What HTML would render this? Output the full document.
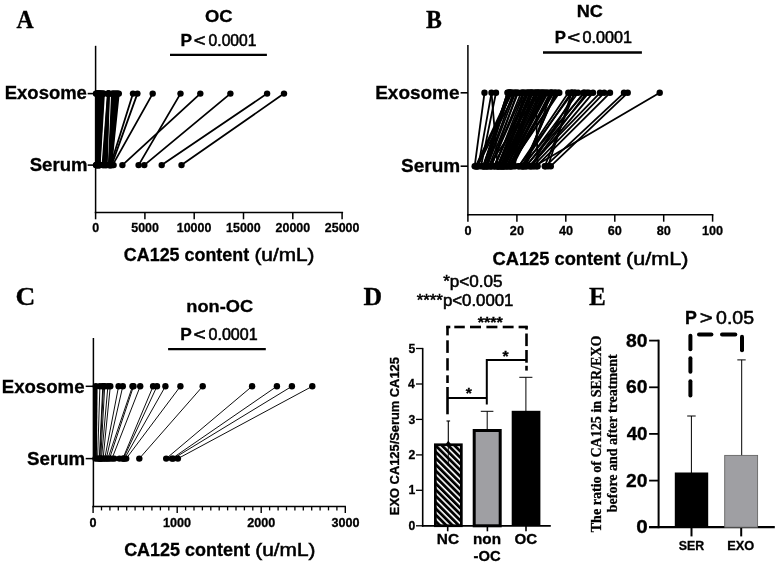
<!DOCTYPE html>
<html lang="en">
<head>
<meta charset="utf-8">
<title>CA125 in exosome and serum</title>
<style>
html,body{margin:0;padding:0;background:#fff;}
body{width:778px;height:565px;overflow:hidden;}
svg{display:block;}
</style>
</head>
<body>
<svg width="778" height="565" viewBox="0 0 778 565">
<rect width="778" height="565" fill="#fff"/>
<g id="panelA">
<text transform="translate(16.60,27.80) scale(0.9517,1)" font-family='"Liberation Serif", "Times New Roman", Times, serif' font-size="25" font-weight="bold" stroke="#000" stroke-width="0.3">A</text>
<text transform="translate(204.92,21.60) scale(1.0646,1)" font-family='"Liberation Sans", Arial, Helvetica, sans-serif' font-size="17.3" font-weight="bold" stroke="#000" stroke-width="0.3">OC</text>
<text transform="translate(180.52,46.00) scale(1.0677,1)" font-family='"Liberation Sans", Arial, Helvetica, sans-serif' font-size="16.2" font-weight="bold" stroke="#000" stroke-width="0.3">P</text>
<text transform="translate(193.76,46.00) scale(1.2121,1)" font-family='"Liberation Sans", Arial, Helvetica, sans-serif' font-size="16.5" font-weight="normal" stroke="#000" stroke-width="0.55">&lt;</text>
<text transform="translate(208.61,46.00) scale(0.9917,1)" font-family='"Liberation Sans", Arial, Helvetica, sans-serif' font-size="15.8" font-weight="normal" stroke="#000" stroke-width="0.55">0.0001</text>
<line x1="170.0" y1="54.8" x2="266.9" y2="54.8" stroke="#000" stroke-width="2.2"/>
<line x1="95.6" y1="45.8" x2="95.6" y2="213.2" stroke="#000" stroke-width="1.5"/>
<line x1="94.8" y1="212.5" x2="343.1" y2="212.5" stroke="#000" stroke-width="1.5"/>
<line x1="95.6" y1="212.5" x2="95.6" y2="219.3" stroke="#000" stroke-width="1.5"/>
<text transform="translate(92.20,232.10) scale(0.9570,1)" font-family='"Liberation Sans", Arial, Helvetica, sans-serif' font-size="13" font-weight="bold" stroke="#000" stroke-width="0.3">0</text>
<line x1="144.9" y1="212.5" x2="144.9" y2="219.3" stroke="#000" stroke-width="1.5"/>
<text transform="translate(131.22,232.10) scale(0.9570,1)" font-family='"Liberation Sans", Arial, Helvetica, sans-serif' font-size="13" font-weight="bold" stroke="#000" stroke-width="0.3">5000</text>
<line x1="194.2" y1="212.5" x2="194.2" y2="219.3" stroke="#000" stroke-width="1.5"/>
<text transform="translate(176.77,232.10) scale(0.9570,1)" font-family='"Liberation Sans", Arial, Helvetica, sans-serif' font-size="13" font-weight="bold" stroke="#000" stroke-width="0.3">10000</text>
<line x1="243.5" y1="212.5" x2="243.5" y2="219.3" stroke="#000" stroke-width="1.5"/>
<text transform="translate(226.07,232.10) scale(0.9570,1)" font-family='"Liberation Sans", Arial, Helvetica, sans-serif' font-size="13" font-weight="bold" stroke="#000" stroke-width="0.3">15000</text>
<line x1="292.8" y1="212.5" x2="292.8" y2="219.3" stroke="#000" stroke-width="1.5"/>
<text transform="translate(275.56,232.10) scale(0.9570,1)" font-family='"Liberation Sans", Arial, Helvetica, sans-serif' font-size="13" font-weight="bold" stroke="#000" stroke-width="0.3">20000</text>
<line x1="342.1" y1="212.5" x2="342.1" y2="219.3" stroke="#000" stroke-width="1.5"/>
<text transform="translate(324.86,232.10) scale(0.9570,1)" font-family='"Liberation Sans", Arial, Helvetica, sans-serif' font-size="13" font-weight="bold" stroke="#000" stroke-width="0.3">25000</text>
<line x1="87.7" y1="93.6" x2="95.6" y2="93.6" stroke="#000" stroke-width="1.6"/>
<line x1="87.7" y1="165.1" x2="95.6" y2="165.1" stroke="#000" stroke-width="1.6"/>
<text transform="translate(4.74,99.30) scale(1.0273,1)" font-family='"Liberation Sans", Arial, Helvetica, sans-serif' font-size="18" font-weight="bold" stroke="#000" stroke-width="0.3">Exosome</text>
<text transform="translate(29.71,171.00) scale(1.0340,1)" font-family='"Liberation Sans", Arial, Helvetica, sans-serif' font-size="18" font-weight="bold" stroke="#000" stroke-width="0.3">Serum</text>
<text transform="translate(123.84,260.90) scale(1.0058,1)" font-family='"Liberation Sans", Arial, Helvetica, sans-serif' font-size="17.8" font-weight="bold" stroke="#000" stroke-width="0.3">CA125 content</text>
<text transform="translate(254.43,260.90) scale(1.1358,1)" font-family='"Liberation Sans", Arial, Helvetica, sans-serif' font-size="18.3" font-weight="normal" stroke="#000" stroke-width="0.55">(u/mL)</text>
<g stroke="#000" stroke-width="1.8" stroke-linecap="round">
<line x1="122.4" y1="165.1" x2="200.3" y2="93.6"/>
<line x1="138.6" y1="165.1" x2="180.5" y2="93.6"/>
<line x1="144.3" y1="165.1" x2="230.4" y2="93.6"/>
<line x1="161.7" y1="165.1" x2="267.1" y2="93.6"/>
<line x1="181.5" y1="165.1" x2="284.0" y2="93.6"/>
<line x1="112.6" y1="165.1" x2="152.7" y2="93.6"/>
<line x1="111.6" y1="165.1" x2="137.4" y2="93.6"/>
<line x1="110.6" y1="165.1" x2="133.0" y2="93.6"/>
<line x1="96.0" y1="165.1" x2="96.0" y2="93.6"/>
<line x1="96.3" y1="165.1" x2="96.7" y2="93.6"/>
<line x1="96.7" y1="165.1" x2="97.5" y2="93.6"/>
<line x1="97.0" y1="165.1" x2="98.2" y2="93.6"/>
<line x1="97.3" y1="165.1" x2="98.9" y2="93.6"/>
<line x1="97.7" y1="165.1" x2="99.6" y2="93.6"/>
<line x1="98.0" y1="165.1" x2="100.4" y2="93.6"/>
<line x1="98.4" y1="165.1" x2="101.1" y2="93.6"/>
<line x1="98.7" y1="165.1" x2="101.8" y2="93.6"/>
<line x1="99.0" y1="165.1" x2="102.5" y2="93.6"/>
<line x1="99.4" y1="165.1" x2="103.3" y2="93.6"/>
<line x1="99.7" y1="165.1" x2="104.0" y2="93.6"/>
<line x1="96.0" y1="165.1" x2="100.0" y2="93.6"/>
<line x1="96.8" y1="165.1" x2="99.3" y2="93.6"/>
<line x1="97.6" y1="165.1" x2="98.6" y2="93.6"/>
<line x1="98.4" y1="165.1" x2="97.9" y2="93.6"/>
<line x1="99.2" y1="165.1" x2="97.2" y2="93.6"/>
<line x1="100.0" y1="165.1" x2="96.5" y2="93.6"/>
<line x1="102.5" y1="165.1" x2="107.9" y2="93.6"/>
<line x1="103.2" y1="165.1" x2="108.1" y2="93.6"/>
<line x1="103.9" y1="165.1" x2="108.3" y2="93.6"/>
<line x1="104.7" y1="165.1" x2="108.5" y2="93.6"/>
<line x1="105.4" y1="165.1" x2="108.6" y2="93.6"/>
<line x1="106.1" y1="165.1" x2="108.8" y2="93.6"/>
<line x1="106.8" y1="165.1" x2="109.0" y2="93.6"/>
<line x1="108.8" y1="165.1" x2="112.0" y2="93.6"/>
<line x1="109.2" y1="165.1" x2="113.0" y2="93.6"/>
<line x1="109.5" y1="165.1" x2="113.9" y2="93.6"/>
<line x1="109.9" y1="165.1" x2="114.9" y2="93.6"/>
<line x1="110.2" y1="165.1" x2="115.9" y2="93.6"/>
<line x1="110.6" y1="165.1" x2="116.9" y2="93.6"/>
<line x1="110.9" y1="165.1" x2="117.8" y2="93.6"/>
<line x1="111.3" y1="165.1" x2="118.8" y2="93.6"/>
</g><g fill="#000">
<circle cx="122.4" cy="165.1" r="3.2"/>
<circle cx="200.3" cy="93.6" r="3.2"/>
<circle cx="138.6" cy="165.1" r="3.2"/>
<circle cx="180.5" cy="93.6" r="3.2"/>
<circle cx="144.3" cy="165.1" r="3.2"/>
<circle cx="230.4" cy="93.6" r="3.2"/>
<circle cx="161.7" cy="165.1" r="3.2"/>
<circle cx="267.1" cy="93.6" r="3.2"/>
<circle cx="181.5" cy="165.1" r="3.2"/>
<circle cx="284.0" cy="93.6" r="3.2"/>
<circle cx="112.6" cy="165.1" r="3.2"/>
<circle cx="152.7" cy="93.6" r="3.2"/>
<circle cx="111.6" cy="165.1" r="3.2"/>
<circle cx="137.4" cy="93.6" r="3.2"/>
<circle cx="110.6" cy="165.1" r="3.2"/>
<circle cx="133.0" cy="93.6" r="3.2"/>
<circle cx="96.0" cy="165.1" r="3.2"/>
<circle cx="96.0" cy="93.6" r="3.2"/>
<circle cx="96.3" cy="165.1" r="3.2"/>
<circle cx="96.7" cy="93.6" r="3.2"/>
<circle cx="96.7" cy="165.1" r="3.2"/>
<circle cx="97.5" cy="93.6" r="3.2"/>
<circle cx="97.0" cy="165.1" r="3.2"/>
<circle cx="98.2" cy="93.6" r="3.2"/>
<circle cx="97.3" cy="165.1" r="3.2"/>
<circle cx="98.9" cy="93.6" r="3.2"/>
<circle cx="97.7" cy="165.1" r="3.2"/>
<circle cx="99.6" cy="93.6" r="3.2"/>
<circle cx="98.0" cy="165.1" r="3.2"/>
<circle cx="100.4" cy="93.6" r="3.2"/>
<circle cx="98.4" cy="165.1" r="3.2"/>
<circle cx="101.1" cy="93.6" r="3.2"/>
<circle cx="98.7" cy="165.1" r="3.2"/>
<circle cx="101.8" cy="93.6" r="3.2"/>
<circle cx="99.0" cy="165.1" r="3.2"/>
<circle cx="102.5" cy="93.6" r="3.2"/>
<circle cx="99.4" cy="165.1" r="3.2"/>
<circle cx="103.3" cy="93.6" r="3.2"/>
<circle cx="99.7" cy="165.1" r="3.2"/>
<circle cx="104.0" cy="93.6" r="3.2"/>
<circle cx="100.0" cy="93.6" r="3.2"/>
<circle cx="96.8" cy="165.1" r="3.2"/>
<circle cx="99.3" cy="93.6" r="3.2"/>
<circle cx="97.6" cy="165.1" r="3.2"/>
<circle cx="98.6" cy="93.6" r="3.2"/>
<circle cx="97.9" cy="93.6" r="3.2"/>
<circle cx="99.2" cy="165.1" r="3.2"/>
<circle cx="97.2" cy="93.6" r="3.2"/>
<circle cx="100.0" cy="165.1" r="3.2"/>
<circle cx="96.5" cy="93.6" r="3.2"/>
<circle cx="102.5" cy="165.1" r="3.2"/>
<circle cx="107.9" cy="93.6" r="3.2"/>
<circle cx="103.2" cy="165.1" r="3.2"/>
<circle cx="108.1" cy="93.6" r="3.2"/>
<circle cx="103.9" cy="165.1" r="3.2"/>
<circle cx="108.3" cy="93.6" r="3.2"/>
<circle cx="104.7" cy="165.1" r="3.2"/>
<circle cx="108.5" cy="93.6" r="3.2"/>
<circle cx="105.4" cy="165.1" r="3.2"/>
<circle cx="108.6" cy="93.6" r="3.2"/>
<circle cx="106.1" cy="165.1" r="3.2"/>
<circle cx="108.8" cy="93.6" r="3.2"/>
<circle cx="106.8" cy="165.1" r="3.2"/>
<circle cx="109.0" cy="93.6" r="3.2"/>
<circle cx="108.8" cy="165.1" r="3.2"/>
<circle cx="112.0" cy="93.6" r="3.2"/>
<circle cx="109.2" cy="165.1" r="3.2"/>
<circle cx="113.0" cy="93.6" r="3.2"/>
<circle cx="109.5" cy="165.1" r="3.2"/>
<circle cx="113.9" cy="93.6" r="3.2"/>
<circle cx="109.9" cy="165.1" r="3.2"/>
<circle cx="114.9" cy="93.6" r="3.2"/>
<circle cx="110.2" cy="165.1" r="3.2"/>
<circle cx="115.9" cy="93.6" r="3.2"/>
<circle cx="116.9" cy="93.6" r="3.2"/>
<circle cx="110.9" cy="165.1" r="3.2"/>
<circle cx="117.8" cy="93.6" r="3.2"/>
<circle cx="111.3" cy="165.1" r="3.2"/>
<circle cx="118.8" cy="93.6" r="3.2"/>
</g>
<circle cx="113.6" cy="165.1" r="3.2"/>
</g>
<g id="panelB">
<text transform="translate(425.93,27.80) scale(0.9536,1)" font-family='"Liberation Serif", "Times New Roman", Times, serif' font-size="25" font-weight="bold" stroke="#000" stroke-width="0.3">B</text>
<text transform="translate(576.77,17.10) scale(1.0477,1)" font-family='"Liberation Sans", Arial, Helvetica, sans-serif' font-size="17.3" font-weight="bold" stroke="#000" stroke-width="0.3">NC</text>
<text transform="translate(554.75,42.50) scale(1.0357,1)" font-family='"Liberation Sans", Arial, Helvetica, sans-serif' font-size="16.2" font-weight="bold" stroke="#000" stroke-width="0.3">P</text>
<text transform="translate(567.16,42.50) scale(1.3455,1)" font-family='"Liberation Sans", Arial, Helvetica, sans-serif' font-size="16.5" font-weight="normal" stroke="#000" stroke-width="0.55">&lt;</text>
<text transform="translate(582.59,42.50) scale(1.0235,1)" font-family='"Liberation Sans", Arial, Helvetica, sans-serif' font-size="15.8" font-weight="normal" stroke="#000" stroke-width="0.55">0.0001</text>
<line x1="543.0" y1="52.5" x2="641.9" y2="52.5" stroke="#000" stroke-width="2.3"/>
<line x1="467.9" y1="45.0" x2="467.9" y2="215.5" stroke="#000" stroke-width="1.5"/>
<line x1="467.1" y1="214.8" x2="713.4" y2="214.8" stroke="#000" stroke-width="1.5"/>
<line x1="467.9" y1="214.8" x2="467.9" y2="221.7" stroke="#000" stroke-width="1.5"/>
<text transform="translate(464.43,235.20) scale(0.9400,1)" font-family='"Liberation Sans", Arial, Helvetica, sans-serif' font-size="13.5" font-weight="bold" stroke="#000" stroke-width="0.3">0</text>
<line x1="516.9" y1="214.8" x2="516.9" y2="221.7" stroke="#000" stroke-width="1.5"/>
<text transform="translate(509.85,235.20) scale(0.9400,1)" font-family='"Liberation Sans", Arial, Helvetica, sans-serif' font-size="13.5" font-weight="bold" stroke="#000" stroke-width="0.3">20</text>
<line x1="565.8" y1="214.8" x2="565.8" y2="221.7" stroke="#000" stroke-width="1.5"/>
<text transform="translate(559.00,235.20) scale(0.9400,1)" font-family='"Liberation Sans", Arial, Helvetica, sans-serif' font-size="13.5" font-weight="bold" stroke="#000" stroke-width="0.3">40</text>
<line x1="614.8" y1="214.8" x2="614.8" y2="221.7" stroke="#000" stroke-width="1.5"/>
<text transform="translate(607.75,235.20) scale(0.9400,1)" font-family='"Liberation Sans", Arial, Helvetica, sans-serif' font-size="13.5" font-weight="bold" stroke="#000" stroke-width="0.3">60</text>
<line x1="663.7" y1="214.8" x2="663.7" y2="221.7" stroke="#000" stroke-width="1.5"/>
<text transform="translate(656.70,235.20) scale(0.9400,1)" font-family='"Liberation Sans", Arial, Helvetica, sans-serif' font-size="13.5" font-weight="bold" stroke="#000" stroke-width="0.3">80</text>
<line x1="712.6" y1="214.8" x2="712.6" y2="221.7" stroke="#000" stroke-width="1.5"/>
<text transform="translate(701.92,235.20) scale(0.9400,1)" font-family='"Liberation Sans", Arial, Helvetica, sans-serif' font-size="13.5" font-weight="bold" stroke="#000" stroke-width="0.3">100</text>
<line x1="460.6" y1="92.8" x2="467.9" y2="92.8" stroke="#000" stroke-width="1.6"/>
<line x1="460.6" y1="166.2" x2="467.9" y2="166.2" stroke="#000" stroke-width="1.6"/>
<text transform="translate(375.21,98.80) scale(1.0540,1)" font-family='"Liberation Sans", Arial, Helvetica, sans-serif' font-size="18" font-weight="bold" stroke="#000" stroke-width="0.3">Exosome</text>
<text transform="translate(401.00,172.30) scale(1.0560,1)" font-family='"Liberation Sans", Arial, Helvetica, sans-serif' font-size="18" font-weight="bold" stroke="#000" stroke-width="0.3">Serum</text>
<text transform="translate(492.53,264.90) scale(1.0105,1)" font-family='"Liberation Sans", Arial, Helvetica, sans-serif' font-size="18.1" font-weight="bold" stroke="#000" stroke-width="0.3">CA125 content</text>
<text transform="translate(625.99,264.90) scale(1.1618,1)" font-family='"Liberation Sans", Arial, Helvetica, sans-serif' font-size="18.6" font-weight="normal" stroke="#000" stroke-width="0.55">(u/mL)</text>
<g stroke="#000" stroke-width="1.8" stroke-linecap="round">
<line x1="474.7" y1="166.2" x2="484.5" y2="92.8"/>
<line x1="478.3" y1="166.2" x2="491.5" y2="92.8"/>
<line x1="481.0" y1="166.2" x2="496.0" y2="92.8"/>
<line x1="497.7" y1="166.2" x2="491.5" y2="92.8"/>
<line x1="537.6" y1="166.2" x2="535.8" y2="92.8"/>
<line x1="534.4" y1="166.2" x2="659.7" y2="92.8"/>
<line x1="545.5" y1="166.2" x2="624.0" y2="92.8"/>
<line x1="550.8" y1="166.2" x2="627.7" y2="92.8"/>
<line x1="548.0" y1="166.2" x2="571.7" y2="92.8"/>
<line x1="544.8" y1="166.2" x2="574.5" y2="92.8"/>
<line x1="536.4" y1="166.2" x2="610.0" y2="92.8"/>
<line x1="533.0" y1="166.2" x2="604.2" y2="92.8"/>
<line x1="529.0" y1="166.2" x2="600.0" y2="92.8"/>
<line x1="531.0" y1="166.2" x2="593.0" y2="92.8"/>
<line x1="526.0" y1="166.2" x2="588.7" y2="92.8"/>
<line x1="522.0" y1="166.2" x2="584.4" y2="92.8"/>
<line x1="491.4" y1="166.2" x2="517.1" y2="92.8"/>
<line x1="500.9" y1="166.2" x2="530.1" y2="92.8"/>
<line x1="497.5" y1="166.2" x2="528.2" y2="92.8"/>
<line x1="483.7" y1="166.2" x2="509.5" y2="92.8"/>
<line x1="483.1" y1="166.2" x2="507.9" y2="92.8"/>
<line x1="484.0" y1="166.2" x2="507.5" y2="92.8"/>
<line x1="494.3" y1="166.2" x2="528.1" y2="92.8"/>
<line x1="485.6" y1="166.2" x2="509.4" y2="92.8"/>
<line x1="500.2" y1="166.2" x2="537.9" y2="92.8"/>
<line x1="498.7" y1="166.2" x2="530.2" y2="92.8"/>
<line x1="510.3" y1="166.2" x2="543.5" y2="92.8"/>
<line x1="506.9" y1="166.2" x2="541.0" y2="92.8"/>
<line x1="486.2" y1="166.2" x2="509.2" y2="92.8"/>
<line x1="490.9" y1="166.2" x2="523.1" y2="92.8"/>
<line x1="487.2" y1="166.2" x2="515.4" y2="92.8"/>
<line x1="500.5" y1="166.2" x2="532.6" y2="92.8"/>
<line x1="497.9" y1="166.2" x2="525.7" y2="92.8"/>
<line x1="483.7" y1="166.2" x2="507.5" y2="92.8"/>
<line x1="501.7" y1="166.2" x2="534.9" y2="92.8"/>
<line x1="491.1" y1="166.2" x2="521.1" y2="92.8"/>
<line x1="495.1" y1="166.2" x2="524.1" y2="92.8"/>
<line x1="505.0" y1="166.2" x2="542.4" y2="92.8"/>
<line x1="489.1" y1="166.2" x2="518.0" y2="92.8"/>
<line x1="497.2" y1="166.2" x2="532.8" y2="92.8"/>
<line x1="503.2" y1="166.2" x2="535.6" y2="92.8"/>
<line x1="510.4" y1="166.2" x2="544.4" y2="92.8"/>
<line x1="494.1" y1="166.2" x2="527.2" y2="92.8"/>
<line x1="486.4" y1="166.2" x2="513.3" y2="92.8"/>
<line x1="483.1" y1="166.2" x2="510.3" y2="92.8"/>
<line x1="504.2" y1="166.2" x2="539.9" y2="92.8"/>
<line x1="507.4" y1="166.2" x2="542.0" y2="92.8"/>
<line x1="502.2" y1="166.2" x2="537.2" y2="92.8"/>
<line x1="498.8" y1="166.2" x2="530.9" y2="92.8"/>
<line x1="506.4" y1="166.2" x2="546.8" y2="92.8"/>
<line x1="521.3" y1="166.2" x2="571.2" y2="92.8"/>
<line x1="509.7" y1="166.2" x2="558.1" y2="92.8"/>
<line x1="526.1" y1="166.2" x2="583.6" y2="92.8"/>
<line x1="531.0" y1="166.2" x2="575.3" y2="92.8"/>
<line x1="518.8" y1="166.2" x2="568.3" y2="92.8"/>
<line x1="508.6" y1="166.2" x2="552.0" y2="92.8"/>
<line x1="512.7" y1="166.2" x2="550.0" y2="92.8"/>
<line x1="509.7" y1="166.2" x2="559.3" y2="92.8"/>
<line x1="511.6" y1="166.2" x2="551.3" y2="92.8"/>
<line x1="518.9" y1="166.2" x2="572.6" y2="92.8"/>
<line x1="510.3" y1="166.2" x2="553.7" y2="92.8"/>
<line x1="523.4" y1="166.2" x2="578.1" y2="92.8"/>
<line x1="530.9" y1="166.2" x2="586.8" y2="92.8"/>
<line x1="476.8" y1="166.2" x2="511.3" y2="92.8"/>
<line x1="477.6" y1="166.2" x2="515.1" y2="92.8"/>
<line x1="483.6" y1="166.2" x2="509.2" y2="92.8"/>
<line x1="475.8" y1="166.2" x2="509.9" y2="92.8"/>
<line x1="476.3" y1="166.2" x2="511.9" y2="92.8"/>
<line x1="511.6" y1="166.2" x2="531.8" y2="92.8"/>
<line x1="488.2" y1="166.2" x2="538.9" y2="92.8"/>
<line x1="502.8" y1="166.2" x2="545.5" y2="92.8"/>
<line x1="526.1" y1="166.2" x2="551.1" y2="92.8"/>
<line x1="508.6" y1="166.2" x2="547.8" y2="92.8"/>
<line x1="515.0" y1="166.2" x2="522.4" y2="92.8"/>
<line x1="524.0" y1="166.2" x2="555.1" y2="92.8"/>
<line x1="523.0" y1="166.2" x2="555.9" y2="92.8"/>
<line x1="503.7" y1="166.2" x2="538.0" y2="92.8"/>
</g><g fill="#000">
<circle cx="474.7" cy="166.2" r="3.2"/>
<circle cx="484.5" cy="92.8" r="3.2"/>
<circle cx="478.3" cy="166.2" r="3.2"/>
<circle cx="491.5" cy="92.8" r="3.2"/>
<circle cx="481.0" cy="166.2" r="3.2"/>
<circle cx="496.0" cy="92.8" r="3.2"/>
<circle cx="497.7" cy="166.2" r="3.2"/>
<circle cx="537.6" cy="166.2" r="3.2"/>
<circle cx="535.8" cy="92.8" r="3.2"/>
<circle cx="534.4" cy="166.2" r="3.2"/>
<circle cx="659.7" cy="92.8" r="3.2"/>
<circle cx="545.5" cy="166.2" r="3.2"/>
<circle cx="624.0" cy="92.8" r="3.2"/>
<circle cx="550.8" cy="166.2" r="3.2"/>
<circle cx="627.7" cy="92.8" r="3.2"/>
<circle cx="548.0" cy="166.2" r="3.2"/>
<circle cx="571.7" cy="92.8" r="3.2"/>
<circle cx="544.8" cy="166.2" r="3.2"/>
<circle cx="574.5" cy="92.8" r="3.2"/>
<circle cx="536.4" cy="166.2" r="3.2"/>
<circle cx="610.0" cy="92.8" r="3.2"/>
<circle cx="533.0" cy="166.2" r="3.2"/>
<circle cx="604.2" cy="92.8" r="3.2"/>
<circle cx="529.0" cy="166.2" r="3.2"/>
<circle cx="600.0" cy="92.8" r="3.2"/>
<circle cx="531.0" cy="166.2" r="3.2"/>
<circle cx="593.0" cy="92.8" r="3.2"/>
<circle cx="526.0" cy="166.2" r="3.2"/>
<circle cx="588.7" cy="92.8" r="3.2"/>
<circle cx="522.0" cy="166.2" r="3.2"/>
<circle cx="584.4" cy="92.8" r="3.2"/>
<circle cx="491.4" cy="166.2" r="3.2"/>
<circle cx="517.1" cy="92.8" r="3.2"/>
<circle cx="500.9" cy="166.2" r="3.2"/>
<circle cx="530.1" cy="92.8" r="3.2"/>
<circle cx="497.5" cy="166.2" r="3.2"/>
<circle cx="528.2" cy="92.8" r="3.2"/>
<circle cx="483.7" cy="166.2" r="3.2"/>
<circle cx="509.5" cy="92.8" r="3.2"/>
<circle cx="483.1" cy="166.2" r="3.2"/>
<circle cx="507.9" cy="92.8" r="3.2"/>
<circle cx="484.0" cy="166.2" r="3.2"/>
<circle cx="507.5" cy="92.8" r="3.2"/>
<circle cx="494.3" cy="166.2" r="3.2"/>
<circle cx="528.1" cy="92.8" r="3.2"/>
<circle cx="485.6" cy="166.2" r="3.2"/>
<circle cx="509.4" cy="92.8" r="3.2"/>
<circle cx="500.2" cy="166.2" r="3.2"/>
<circle cx="537.9" cy="92.8" r="3.2"/>
<circle cx="498.7" cy="166.2" r="3.2"/>
<circle cx="530.2" cy="92.8" r="3.2"/>
<circle cx="510.3" cy="166.2" r="3.2"/>
<circle cx="543.5" cy="92.8" r="3.2"/>
<circle cx="506.9" cy="166.2" r="3.2"/>
<circle cx="541.0" cy="92.8" r="3.2"/>
<circle cx="486.2" cy="166.2" r="3.2"/>
<circle cx="509.2" cy="92.8" r="3.2"/>
<circle cx="490.9" cy="166.2" r="3.2"/>
<circle cx="523.1" cy="92.8" r="3.2"/>
<circle cx="487.2" cy="166.2" r="3.2"/>
<circle cx="515.4" cy="92.8" r="3.2"/>
<circle cx="500.5" cy="166.2" r="3.2"/>
<circle cx="532.6" cy="92.8" r="3.2"/>
<circle cx="497.9" cy="166.2" r="3.2"/>
<circle cx="525.7" cy="92.8" r="3.2"/>
<circle cx="501.7" cy="166.2" r="3.2"/>
<circle cx="534.9" cy="92.8" r="3.2"/>
<circle cx="491.1" cy="166.2" r="3.2"/>
<circle cx="521.1" cy="92.8" r="3.2"/>
<circle cx="495.1" cy="166.2" r="3.2"/>
<circle cx="524.1" cy="92.8" r="3.2"/>
<circle cx="505.0" cy="166.2" r="3.2"/>
<circle cx="542.4" cy="92.8" r="3.2"/>
<circle cx="489.1" cy="166.2" r="3.2"/>
<circle cx="518.0" cy="92.8" r="3.2"/>
<circle cx="497.2" cy="166.2" r="3.2"/>
<circle cx="532.8" cy="92.8" r="3.2"/>
<circle cx="503.2" cy="166.2" r="3.2"/>
<circle cx="535.6" cy="92.8" r="3.2"/>
<circle cx="510.4" cy="166.2" r="3.2"/>
<circle cx="544.4" cy="92.8" r="3.2"/>
<circle cx="494.1" cy="166.2" r="3.2"/>
<circle cx="527.2" cy="92.8" r="3.2"/>
<circle cx="486.4" cy="166.2" r="3.2"/>
<circle cx="513.3" cy="92.8" r="3.2"/>
<circle cx="510.3" cy="92.8" r="3.2"/>
<circle cx="504.2" cy="166.2" r="3.2"/>
<circle cx="539.9" cy="92.8" r="3.2"/>
<circle cx="507.4" cy="166.2" r="3.2"/>
<circle cx="542.0" cy="92.8" r="3.2"/>
<circle cx="502.2" cy="166.2" r="3.2"/>
<circle cx="537.2" cy="92.8" r="3.2"/>
<circle cx="498.8" cy="166.2" r="3.2"/>
<circle cx="530.9" cy="92.8" r="3.2"/>
<circle cx="506.4" cy="166.2" r="3.2"/>
<circle cx="546.8" cy="92.8" r="3.2"/>
<circle cx="521.3" cy="166.2" r="3.2"/>
<circle cx="571.2" cy="92.8" r="3.2"/>
<circle cx="509.7" cy="166.2" r="3.2"/>
<circle cx="558.1" cy="92.8" r="3.2"/>
<circle cx="526.1" cy="166.2" r="3.2"/>
<circle cx="583.6" cy="92.8" r="3.2"/>
<circle cx="575.3" cy="92.8" r="3.2"/>
<circle cx="518.8" cy="166.2" r="3.2"/>
<circle cx="568.3" cy="92.8" r="3.2"/>
<circle cx="508.6" cy="166.2" r="3.2"/>
<circle cx="552.0" cy="92.8" r="3.2"/>
<circle cx="512.7" cy="166.2" r="3.2"/>
<circle cx="550.0" cy="92.8" r="3.2"/>
<circle cx="559.3" cy="92.8" r="3.2"/>
<circle cx="511.6" cy="166.2" r="3.2"/>
<circle cx="551.3" cy="92.8" r="3.2"/>
<circle cx="518.9" cy="166.2" r="3.2"/>
<circle cx="572.6" cy="92.8" r="3.2"/>
<circle cx="553.7" cy="92.8" r="3.2"/>
<circle cx="523.4" cy="166.2" r="3.2"/>
<circle cx="578.1" cy="92.8" r="3.2"/>
<circle cx="530.9" cy="166.2" r="3.2"/>
<circle cx="586.8" cy="92.8" r="3.2"/>
<circle cx="476.8" cy="166.2" r="3.2"/>
<circle cx="511.3" cy="92.8" r="3.2"/>
<circle cx="477.6" cy="166.2" r="3.2"/>
<circle cx="515.1" cy="92.8" r="3.2"/>
<circle cx="483.6" cy="166.2" r="3.2"/>
<circle cx="475.8" cy="166.2" r="3.2"/>
<circle cx="509.9" cy="92.8" r="3.2"/>
<circle cx="476.3" cy="166.2" r="3.2"/>
<circle cx="511.9" cy="92.8" r="3.2"/>
<circle cx="531.8" cy="92.8" r="3.2"/>
<circle cx="488.2" cy="166.2" r="3.2"/>
<circle cx="538.9" cy="92.8" r="3.2"/>
<circle cx="502.8" cy="166.2" r="3.2"/>
<circle cx="545.5" cy="92.8" r="3.2"/>
<circle cx="551.1" cy="92.8" r="3.2"/>
<circle cx="547.8" cy="92.8" r="3.2"/>
<circle cx="515.0" cy="166.2" r="3.2"/>
<circle cx="522.4" cy="92.8" r="3.2"/>
<circle cx="524.0" cy="166.2" r="3.2"/>
<circle cx="555.1" cy="92.8" r="3.2"/>
<circle cx="523.0" cy="166.2" r="3.2"/>
<circle cx="555.9" cy="92.8" r="3.2"/>
<circle cx="503.7" cy="166.2" r="3.2"/>
<circle cx="538.0" cy="92.8" r="3.2"/>
</g>
</g>
<g id="panelC">
<text transform="translate(15.42,304.60) scale(1.0962,1)" font-family='"Liberation Serif", "Times New Roman", Times, serif' font-size="25" font-weight="bold" stroke="#000" stroke-width="0.3">C</text>
<text transform="translate(186.26,311.90) scale(1.0548,1)" font-family='"Liberation Sans", Arial, Helvetica, sans-serif' font-size="17.3" font-weight="bold" stroke="#000" stroke-width="0.3">non-OC</text>
<text transform="translate(180.22,340.00) scale(1.0677,1)" font-family='"Liberation Sans", Arial, Helvetica, sans-serif' font-size="16.2" font-weight="bold" stroke="#000" stroke-width="0.3">P</text>
<text transform="translate(193.43,340.00) scale(1.2606,1)" font-family='"Liberation Sans", Arial, Helvetica, sans-serif' font-size="16.5" font-weight="normal" stroke="#000" stroke-width="0.55">&lt;</text>
<text transform="translate(208.50,340.00) scale(1.0171,1)" font-family='"Liberation Sans", Arial, Helvetica, sans-serif' font-size="15.8" font-weight="normal" stroke="#000" stroke-width="0.55">0.0001</text>
<line x1="168.1" y1="349.1" x2="265.8" y2="349.1" stroke="#000" stroke-width="2.4"/>
<line x1="93.4" y1="338.0" x2="93.4" y2="507.2" stroke="#000" stroke-width="1.5"/>
<line x1="92.4" y1="506.5" x2="345.9" y2="506.5" stroke="#000" stroke-width="1.4"/>
<line x1="93.1" y1="506.5" x2="93.1" y2="513.0" stroke="#000" stroke-width="1.4"/>
<text transform="translate(89.62,526.60) scale(1.0000,1)" font-family='"Liberation Sans", Arial, Helvetica, sans-serif' font-size="12.6" font-weight="bold" stroke="#000" stroke-width="0.3">0</text>
<line x1="101.5" y1="506.5" x2="101.5" y2="510.4" stroke="#000" stroke-width="1.3"/>
<line x1="109.9" y1="506.5" x2="109.9" y2="510.4" stroke="#000" stroke-width="1.3"/>
<line x1="118.3" y1="506.5" x2="118.3" y2="510.4" stroke="#000" stroke-width="1.3"/>
<line x1="126.7" y1="506.5" x2="126.7" y2="510.4" stroke="#000" stroke-width="1.3"/>
<line x1="135.1" y1="506.5" x2="135.1" y2="510.4" stroke="#000" stroke-width="1.3"/>
<line x1="143.5" y1="506.5" x2="143.5" y2="510.4" stroke="#000" stroke-width="1.3"/>
<line x1="151.9" y1="506.5" x2="151.9" y2="510.4" stroke="#000" stroke-width="1.3"/>
<line x1="160.4" y1="506.5" x2="160.4" y2="510.4" stroke="#000" stroke-width="1.3"/>
<line x1="168.8" y1="506.5" x2="168.8" y2="510.4" stroke="#000" stroke-width="1.3"/>
<line x1="177.2" y1="506.5" x2="177.2" y2="513.0" stroke="#000" stroke-width="1.4"/>
<text transform="translate(163.03,526.60) scale(1.0000,1)" font-family='"Liberation Sans", Arial, Helvetica, sans-serif' font-size="12.6" font-weight="bold" stroke="#000" stroke-width="0.3">1000</text>
<line x1="185.6" y1="506.5" x2="185.6" y2="510.4" stroke="#000" stroke-width="1.3"/>
<line x1="194.0" y1="506.5" x2="194.0" y2="510.4" stroke="#000" stroke-width="1.3"/>
<line x1="202.4" y1="506.5" x2="202.4" y2="510.4" stroke="#000" stroke-width="1.3"/>
<line x1="210.8" y1="506.5" x2="210.8" y2="510.4" stroke="#000" stroke-width="1.3"/>
<line x1="219.2" y1="506.5" x2="219.2" y2="510.4" stroke="#000" stroke-width="1.3"/>
<line x1="227.6" y1="506.5" x2="227.6" y2="510.4" stroke="#000" stroke-width="1.3"/>
<line x1="236.0" y1="506.5" x2="236.0" y2="510.4" stroke="#000" stroke-width="1.3"/>
<line x1="244.4" y1="506.5" x2="244.4" y2="510.4" stroke="#000" stroke-width="1.3"/>
<line x1="252.8" y1="506.5" x2="252.8" y2="510.4" stroke="#000" stroke-width="1.3"/>
<line x1="261.2" y1="506.5" x2="261.2" y2="513.0" stroke="#000" stroke-width="1.4"/>
<text transform="translate(247.28,526.60) scale(1.0000,1)" font-family='"Liberation Sans", Arial, Helvetica, sans-serif' font-size="12.6" font-weight="bold" stroke="#000" stroke-width="0.3">2000</text>
<line x1="269.6" y1="506.5" x2="269.6" y2="510.4" stroke="#000" stroke-width="1.3"/>
<line x1="278.1" y1="506.5" x2="278.1" y2="510.4" stroke="#000" stroke-width="1.3"/>
<line x1="286.5" y1="506.5" x2="286.5" y2="510.4" stroke="#000" stroke-width="1.3"/>
<line x1="294.9" y1="506.5" x2="294.9" y2="510.4" stroke="#000" stroke-width="1.3"/>
<line x1="303.3" y1="506.5" x2="303.3" y2="510.4" stroke="#000" stroke-width="1.3"/>
<line x1="311.7" y1="506.5" x2="311.7" y2="510.4" stroke="#000" stroke-width="1.3"/>
<line x1="320.1" y1="506.5" x2="320.1" y2="510.4" stroke="#000" stroke-width="1.3"/>
<line x1="328.5" y1="506.5" x2="328.5" y2="510.4" stroke="#000" stroke-width="1.3"/>
<line x1="336.9" y1="506.5" x2="336.9" y2="510.4" stroke="#000" stroke-width="1.3"/>
<line x1="345.3" y1="506.5" x2="345.3" y2="513.0" stroke="#000" stroke-width="1.4"/>
<text transform="translate(331.42,526.60) scale(1.0000,1)" font-family='"Liberation Sans", Arial, Helvetica, sans-serif' font-size="12.6" font-weight="bold" stroke="#000" stroke-width="0.3">3000</text>
<line x1="85.7" y1="386.3" x2="93.1" y2="386.3" stroke="#000" stroke-width="1.5"/>
<line x1="85.7" y1="458.6" x2="93.1" y2="458.6" stroke="#000" stroke-width="1.5"/>
<text transform="translate(1.74,392.50) scale(1.0349,1)" font-family='"Liberation Sans", Arial, Helvetica, sans-serif' font-size="18" font-weight="bold" stroke="#000" stroke-width="0.3">Exosome</text>
<text transform="translate(27.01,465.00) scale(1.0395,1)" font-family='"Liberation Sans", Arial, Helvetica, sans-serif' font-size="18" font-weight="bold" stroke="#000" stroke-width="0.3">Serum</text>
<text transform="translate(124.14,555.90) scale(1.0106,1)" font-family='"Liberation Sans", Arial, Helvetica, sans-serif' font-size="17.8" font-weight="bold" stroke="#000" stroke-width="0.3">CA125 content</text>
<text transform="translate(255.32,555.90) scale(1.1377,1)" font-family='"Liberation Sans", Arial, Helvetica, sans-serif' font-size="18.3" font-weight="normal" stroke="#000" stroke-width="0.55">(u/mL)</text>
<g stroke="#000" stroke-width="0.95" stroke-linecap="round">
<line x1="139.3" y1="458.6" x2="202.7" y2="386.3"/>
<line x1="166.2" y1="458.6" x2="252.1" y2="386.3"/>
<line x1="171.9" y1="458.6" x2="276.9" y2="386.3"/>
<line x1="173.3" y1="458.6" x2="291.9" y2="386.3"/>
<line x1="177.9" y1="458.6" x2="312.3" y2="386.3"/>
<line x1="126.2" y1="458.6" x2="180.4" y2="386.3"/>
<line x1="124.5" y1="458.6" x2="165.4" y2="386.3"/>
<line x1="123.4" y1="458.6" x2="157.0" y2="386.3"/>
<line x1="122.8" y1="458.6" x2="153.1" y2="386.3"/>
<line x1="112.0" y1="458.6" x2="140.2" y2="386.3"/>
<line x1="109.5" y1="458.6" x2="133.5" y2="386.3"/>
<line x1="107.9" y1="458.6" x2="132.5" y2="386.3"/>
<line x1="106.3" y1="458.6" x2="122.8" y2="386.3"/>
<line x1="104.7" y1="458.6" x2="118.6" y2="386.3"/>
<line x1="103.1" y1="458.6" x2="110.3" y2="386.3"/>
<line x1="101.5" y1="458.6" x2="107.9" y2="386.3"/>
<line x1="100.7" y1="458.6" x2="104.7" y2="386.3"/>
<line x1="99.8" y1="458.6" x2="103.5" y2="386.3"/>
<line x1="99.3" y1="458.6" x2="102.8" y2="386.3"/>
<line x1="97.6" y1="458.6" x2="99.9" y2="386.3"/>
</g><g fill="#000">
<circle cx="139.3" cy="458.6" r="3.2"/>
<circle cx="202.7" cy="386.3" r="3.2"/>
<circle cx="166.2" cy="458.6" r="3.2"/>
<circle cx="252.1" cy="386.3" r="3.2"/>
<circle cx="171.9" cy="458.6" r="3.2"/>
<circle cx="276.9" cy="386.3" r="3.2"/>
<circle cx="173.3" cy="458.6" r="3.2"/>
<circle cx="291.9" cy="386.3" r="3.2"/>
<circle cx="177.9" cy="458.6" r="3.2"/>
<circle cx="312.3" cy="386.3" r="3.2"/>
<circle cx="126.2" cy="458.6" r="3.2"/>
<circle cx="180.4" cy="386.3" r="3.2"/>
<circle cx="124.5" cy="458.6" r="3.2"/>
<circle cx="165.4" cy="386.3" r="3.2"/>
<circle cx="123.4" cy="458.6" r="3.2"/>
<circle cx="157.0" cy="386.3" r="3.2"/>
<circle cx="122.8" cy="458.6" r="3.2"/>
<circle cx="153.1" cy="386.3" r="3.2"/>
<circle cx="112.0" cy="458.6" r="3.2"/>
<circle cx="140.2" cy="386.3" r="3.2"/>
<circle cx="109.5" cy="458.6" r="3.2"/>
<circle cx="133.5" cy="386.3" r="3.2"/>
<circle cx="107.9" cy="458.6" r="3.2"/>
<circle cx="132.5" cy="386.3" r="3.2"/>
<circle cx="106.3" cy="458.6" r="3.2"/>
<circle cx="122.8" cy="386.3" r="3.2"/>
<circle cx="104.7" cy="458.6" r="3.2"/>
<circle cx="118.6" cy="386.3" r="3.2"/>
<circle cx="103.1" cy="458.6" r="3.2"/>
<circle cx="110.3" cy="386.3" r="3.2"/>
<circle cx="101.5" cy="458.6" r="3.2"/>
<circle cx="107.9" cy="386.3" r="3.2"/>
<circle cx="100.7" cy="458.6" r="3.2"/>
<circle cx="104.7" cy="386.3" r="3.2"/>
<circle cx="99.8" cy="458.6" r="3.2"/>
<circle cx="103.5" cy="386.3" r="3.2"/>
<circle cx="99.3" cy="458.6" r="3.2"/>
<circle cx="102.8" cy="386.3" r="3.2"/>
<circle cx="97.6" cy="458.6" r="3.2"/>
<circle cx="99.9" cy="386.3" r="3.2"/>
</g>
<path d="M93.3 458.6 L93.3 386.3 L97.6 386.3 L96.9 458.6 Z" fill="#000"/>
<circle cx="114.3" cy="458.6" r="3.2"/><circle cx="95.5" cy="458.6" r="3.2"/><circle cx="95.8" cy="386.3" r="3.2"/>
<circle cx="119.5" cy="458.6" r="3.2"/>
</g>
<g id="panelD">
<text transform="translate(363.40,304.70) scale(1.0300,1)" font-family='"Liberation Serif", "Times New Roman", Times, serif' font-size="25" font-weight="bold" stroke="#000" stroke-width="0.3">D</text>
<text transform="translate(443.13,286.70) scale(1.0183,1)" font-family='"Liberation Sans", Arial, Helvetica, sans-serif' font-size="16.8" font-weight="normal" stroke="#000" stroke-width="0.55">*p&lt;0.05</text>
<text transform="translate(416.74,305.90) scale(1.0006,1)" font-family='"Liberation Sans", Arial, Helvetica, sans-serif' font-size="16.8" font-weight="normal" stroke="#000" stroke-width="0.55">****p&lt;0.0001</text>
<text transform="translate(477.70,326.74) scale(1.1552,1)" font-family='"Liberation Sans", Arial, Helvetica, sans-serif' font-size="14" font-weight="bold" stroke="#000" stroke-width="0.3">****</text>
<text transform="translate(465.84,398.44) scale(1.1200,1)" font-family='"Liberation Sans", Arial, Helvetica, sans-serif' font-size="14" font-weight="bold" stroke="#000" stroke-width="0.3">*</text>
<text transform="translate(502.44,360.84) scale(1.1200,1)" font-family='"Liberation Sans", Arial, Helvetica, sans-serif' font-size="14" font-weight="bold" stroke="#000" stroke-width="0.3">*</text>
<line x1="422.7" y1="347.9" x2="422.7" y2="526.7" stroke="#000" stroke-width="1.6"/>
<line x1="421.9" y1="525.8" x2="550.8" y2="525.8" stroke="#000" stroke-width="1.8"/>
<line x1="416.0" y1="525.8" x2="422.7" y2="525.8" stroke="#000" stroke-width="1.3"/>
<text transform="translate(408.60,529.90) scale(0.9400,1)" font-family='"Liberation Sans", Arial, Helvetica, sans-serif' font-size="13" font-weight="bold" stroke="#000" stroke-width="0.3">0</text>
<line x1="416.0" y1="490.3" x2="422.7" y2="490.3" stroke="#000" stroke-width="1.3"/>
<text transform="translate(408.41,494.44) scale(0.9400,1)" font-family='"Liberation Sans", Arial, Helvetica, sans-serif' font-size="13" font-weight="bold" stroke="#000" stroke-width="0.3">1</text>
<line x1="416.0" y1="454.9" x2="422.7" y2="454.9" stroke="#000" stroke-width="1.3"/>
<text transform="translate(408.41,458.98) scale(0.9400,1)" font-family='"Liberation Sans", Arial, Helvetica, sans-serif' font-size="13" font-weight="bold" stroke="#000" stroke-width="0.3">2</text>
<line x1="416.0" y1="419.4" x2="422.7" y2="419.4" stroke="#000" stroke-width="1.3"/>
<text transform="translate(408.41,423.52) scale(0.9400,1)" font-family='"Liberation Sans", Arial, Helvetica, sans-serif' font-size="13" font-weight="bold" stroke="#000" stroke-width="0.3">3</text>
<line x1="416.0" y1="384.0" x2="422.7" y2="384.0" stroke="#000" stroke-width="1.3"/>
<text transform="translate(408.03,388.06) scale(0.9400,1)" font-family='"Liberation Sans", Arial, Helvetica, sans-serif' font-size="13" font-weight="bold" stroke="#000" stroke-width="0.3">4</text>
<line x1="416.0" y1="348.5" x2="422.7" y2="348.5" stroke="#000" stroke-width="1.3"/>
<text transform="translate(408.41,352.60) scale(0.9400,1)" font-family='"Liberation Sans", Arial, Helvetica, sans-serif' font-size="13" font-weight="bold" stroke="#000" stroke-width="0.3">5</text>
<line x1="447.7" y1="525.8" x2="447.7" y2="531.3" stroke="#000" stroke-width="1.6"/>
<line x1="487.4" y1="525.8" x2="487.4" y2="531.3" stroke="#000" stroke-width="1.6"/>
<line x1="526.0" y1="525.8" x2="526.0" y2="531.3" stroke="#000" stroke-width="1.6"/>
<text transform="translate(398.90,515.16) rotate(-90) scale(1.0060,1)" font-family='"Liberation Sans", Arial, Helvetica, sans-serif' font-size="12.8" font-weight="bold" stroke="#000" stroke-width="0.3">EXO CA125/Serum CA125</text>
<defs><pattern id="hatch" y="-0.55" width="8" height="4.455" patternUnits="userSpaceOnUse" patternTransform="rotate(45)"><rect width="8" height="4.455" fill="#000"/><rect width="8" height="1.6" fill="#fff"/></pattern></defs>
<line x1="448.3" y1="421.0" x2="448.3" y2="445.0" stroke="#000" stroke-width="1.1"/>
<line x1="446.5" y1="421.0" x2="450.1" y2="421.0" stroke="#000" stroke-width="1.1"/>
<rect x="435.35" y="444.75" width="26" height="81.0" fill="url(#hatch)" stroke="#000" stroke-width="2.7"/>
<path d="M445.6 444.2 L448.3 440.8 L451 444.2 Z" fill="#000"/>
<line x1="448.3" y1="446" x2="448.3" y2="466" stroke="#000" stroke-width="0.9"/>
<line x1="487.2" y1="411.3" x2="487.2" y2="430.0" stroke="#000" stroke-width="1"/>
<line x1="480.8" y1="411.3" x2="493.4" y2="411.3" stroke="#000" stroke-width="1"/>
<rect x="474.2" y="430.5" width="26" height="95.3" fill="#9f9fa3" stroke="#000" stroke-width="3"/>
<line x1="525.9" y1="377.3" x2="525.9" y2="412.0" stroke="#000" stroke-width="1"/>
<line x1="519.3" y1="377.3" x2="532.4" y2="377.3" stroke="#000" stroke-width="1"/>
<rect x="511.7" y="410.8" width="28.7" height="115.0" fill="#000"/>
<g stroke="#000" stroke-width="2.6">
<line x1="447.5" y1="325.9" x2="447.5" y2="335.4"/>
<line x1="447.5" y1="340.3" x2="447.5" y2="352.9"/>
<line x1="447.5" y1="358.2" x2="447.5" y2="370.5"/>
<line x1="447.5" y1="375.3" x2="447.5" y2="383"/>
<line x1="447.5" y1="387" x2="447.5" y2="414.3"/>
<line x1="446.4" y1="327" x2="450.3" y2="327"/>
<line x1="454.3" y1="327" x2="464.8" y2="327"/>
<line x1="470" y1="327" x2="481" y2="327"/>
<line x1="486.4" y1="327" x2="497.4" y2="327"/>
<line x1="502.7" y1="327" x2="513.6" y2="327"/>
<line x1="518.6" y1="327" x2="527.6" y2="327"/>
<line x1="526.5" y1="325.9" x2="526.5" y2="329.6"/>
<line x1="526.5" y1="333.5" x2="526.5" y2="346.1"/>
<line x1="526.5" y1="350" x2="526.5" y2="362.7"/>
<line x1="526.5" y1="365.8" x2="526.5" y2="370.6"/>
</g>
<path d="M447.5 398.1 H486.8 M486.8 404.5 V360.1 H526.5" fill="none" stroke="#000" stroke-width="2"/>
<text transform="translate(436.84,543.60) scale(1.1007,1)" font-family='"Liberation Sans", Arial, Helvetica, sans-serif' font-size="14" font-weight="bold" stroke="#000" stroke-width="0.3">NC</text>
<text transform="translate(473.05,543.60) scale(1.0911,1)" font-family='"Liberation Sans", Arial, Helvetica, sans-serif' font-size="14" font-weight="bold" stroke="#000" stroke-width="0.3">non</text>
<text transform="translate(473.54,560.70) scale(1.0538,1)" font-family='"Liberation Sans", Arial, Helvetica, sans-serif' font-size="14" font-weight="bold" stroke="#000" stroke-width="0.3">-OC</text>
<text transform="translate(514.43,543.60) scale(1.0790,1)" font-family='"Liberation Sans", Arial, Helvetica, sans-serif' font-size="14" font-weight="bold" stroke="#000" stroke-width="0.3">OC</text>
</g>
<g id="panelE">
<text transform="translate(589.01,304.50) scale(1.0109,1)" font-family='"Liberation Serif", "Times New Roman", Times, serif' font-size="25" font-weight="bold" stroke="#000" stroke-width="0.3">E</text>
<text transform="translate(684.89,324.10) scale(0.9736,1)" font-family='"Liberation Sans", Arial, Helvetica, sans-serif' font-size="18.3" font-weight="bold" stroke="#000" stroke-width="0.3">P</text>
<text transform="translate(699.66,324.10) scale(1.2131,1)" font-family='"Liberation Sans", Arial, Helvetica, sans-serif' font-size="18.3" font-weight="normal" stroke="#000" stroke-width="0.55">&gt;</text>
<text transform="translate(716.09,324.10) scale(1.0669,1)" font-family='"Liberation Sans", Arial, Helvetica, sans-serif' font-size="18.3" font-weight="normal" stroke="#000" stroke-width="0.55">0.05</text>
<line x1="658.6" y1="339.7" x2="658.6" y2="528.2" stroke="#000" stroke-width="2"/>
<line x1="649.1" y1="527.2" x2="774.8" y2="527.2" stroke="#000" stroke-width="2.2"/>
<line x1="649.1" y1="527.2" x2="658.6" y2="527.2" stroke="#000" stroke-width="1.8"/>
<text transform="translate(636.15,533.40) scale(1.1598,1)" font-family='"Liberation Sans", Arial, Helvetica, sans-serif' font-size="17.8" font-weight="bold" stroke="#000" stroke-width="0.3">0</text>
<line x1="649.1" y1="480.6" x2="658.6" y2="480.6" stroke="#000" stroke-width="1.8"/>
<text transform="translate(626.10,486.75) scale(1.0852,1)" font-family='"Liberation Sans", Arial, Helvetica, sans-serif' font-size="17.8" font-weight="bold" stroke="#000" stroke-width="0.3">20</text>
<line x1="649.1" y1="433.9" x2="658.6" y2="433.9" stroke="#000" stroke-width="1.8"/>
<text transform="translate(626.70,440.10) scale(1.0536,1)" font-family='"Liberation Sans", Arial, Helvetica, sans-serif' font-size="17.8" font-weight="bold" stroke="#000" stroke-width="0.3">40</text>
<line x1="649.1" y1="387.3" x2="658.6" y2="387.3" stroke="#000" stroke-width="1.8"/>
<text transform="translate(626.10,393.45) scale(1.0852,1)" font-family='"Liberation Sans", Arial, Helvetica, sans-serif' font-size="17.8" font-weight="bold" stroke="#000" stroke-width="0.3">60</text>
<line x1="649.1" y1="340.6" x2="658.6" y2="340.6" stroke="#000" stroke-width="1.8"/>
<text transform="translate(626.10,346.80) scale(1.0852,1)" font-family='"Liberation Sans", Arial, Helvetica, sans-serif' font-size="17.8" font-weight="bold" stroke="#000" stroke-width="0.3">80</text>
<line x1="691.5" y1="527.2" x2="691.5" y2="536.4" stroke="#000" stroke-width="2"/>
<line x1="741.2" y1="527.2" x2="741.2" y2="536.4" stroke="#000" stroke-width="2"/>
<line x1="691.4" y1="416.0" x2="691.4" y2="473.0" stroke="#000" stroke-width="1"/>
<line x1="687.2" y1="416.0" x2="695.7" y2="416.0" stroke="#000" stroke-width="1"/>
<line x1="741.7" y1="359.9" x2="741.7" y2="456.0" stroke="#000" stroke-width="1"/>
<line x1="737.3" y1="359.9" x2="745.7" y2="359.9" stroke="#000" stroke-width="1"/>
<rect x="674.8" y="472.5" width="33.4" height="54.7" fill="#000"/>
<rect x="724.7" y="455.4" width="32.9" height="71.8" fill="#9f9fa3" stroke="#666" stroke-width="0.9"/>
<g stroke="#000" stroke-width="4" stroke-linecap="round">
<line x1="690.4" y1="335.8" x2="690.4" y2="349.2"/>
<line x1="690.4" y1="358.2" x2="690.4" y2="371.7"/>
<line x1="690.4" y1="381.2" x2="690.4" y2="395.5"/>
<line x1="699" y1="334.4" x2="711.4" y2="334.4"/>
<line x1="722" y1="334.4" x2="735.3" y2="334.4"/>
<line x1="742" y1="336.8" x2="742" y2="350.3"/>
</g>
<text transform="translate(678.85,549.70) scale(0.9983,1)" font-family='"Liberation Sans", Arial, Helvetica, sans-serif' font-size="12.4" font-weight="bold" stroke="#000" stroke-width="0.3">SER</text>
<text transform="translate(727.17,549.70) scale(1.0325,1)" font-family='"Liberation Sans", Arial, Helvetica, sans-serif' font-size="12.4" font-weight="bold" stroke="#000" stroke-width="0.3">EXO</text>
<text transform="translate(600.50,532.32) rotate(-90) scale(0.9401,1)" font-family='"Liberation Serif", "Times New Roman", Times, serif' font-size="15" font-weight="bold" stroke="#000" stroke-width="0.3">The ratio of CA125 in SER/EXO</text>
<text transform="translate(616.90,512.20) rotate(-90) scale(0.9137,1)" font-family='"Liberation Serif", "Times New Roman", Times, serif' font-size="15.3" font-weight="bold" stroke="#000" stroke-width="0.3">before and after treatment</text>
</g>
</svg>
</body>
</html>
